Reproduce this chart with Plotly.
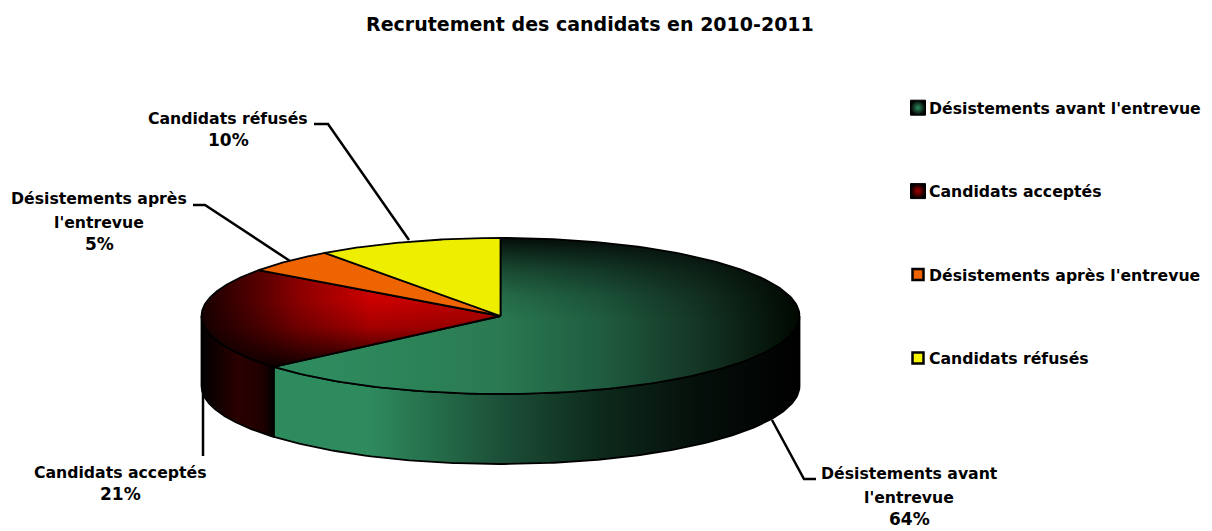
import numpy as np
import plotly.graph_objects as go

# ---- data ----
categories = ["Désistements avant l'entrevue", "Candidats acceptés", "Désistements après l'entrevue", "Candidats réfusés"]
values = [63.7, 21.3, 5, 10]
label_lines = [["Désistements avant", "l'entrevue"], ["Candidats acceptés"], ["Désistements après", "l'entrevue"], ["Candidats réfusés"]]
title_text = "Recrutement des candidats en 2010-2011"
swatch_centers = ["#2E8B5E", "#A80000", "#F06400", "#F5F500"]

# ---- geometry / style ----
W, H = 1212, 531
CX, CY, RX, RY, DEPTH = 500.5, 316, 299, 78, 70
FONT = "DejaVu Sans"
FS = 15.7
LINE_STEP = 24.5

def angle_pts(a0, a1, n=160):
    t = np.radians(np.linspace(a0, a1, n))
    return CX + RX*np.sin(t), CY - RY*np.cos(t)

fig = go.Figure()
def poly(x, y, grad=None, color=None, line=True, gtype="horizontal", start=None, stop=None, name=None):
    kw = dict(x=x, y=y, mode="lines", fill="toself", hoverinfo="skip", showlegend=False, name=name)
    kw["line"] = dict(color="black", width=1.8) if line else dict(color="rgba(0,0,0,0)", width=0)
    if grad is not None:
        kw["fillgradient"] = dict(type=gtype, colorscale=grad, start=start, stop=stop)
    else:
        kw["fillcolor"] = color
    fig.add_trace(go.Scatter(**kw))

cum = np.cumsum([0] + values) / sum(values) * 360
a = {c: (cum[i], cum[i+1]) for i, c in enumerate(categories)}
A, B, C, D = [a[c] for c in categories]

# side faces
def side(a0, a1, grad, x0, x1):
    x, y = angle_pts(a0, a1)
    poly(np.r_[x, x[::-1], x[0]], np.r_[y, y[::-1]+DEPTH, y[0]], grad=grad, start=x0, stop=x1)

side(90, A[1], [[0, "#2E8B5E"], [0.18, "#2E8B5E"], [0.43, "#1C5038"], [0.62, "#0D2A1C"], [0.81, "#050F0A"], [1, "#000000"]], 274, CX+RX)
side(A[1], 270, [[0, "#000000"], [0.5, "#2A0000"], [0.85, "#1E0000"], [1, "#000000"]], CX-RX, 274)

def wedge(a0, a1):
    x, y = angle_pts(a0, a1)
    return np.r_[CX, x, CX], np.r_[CY, y, CY]

# top faces
x, y = wedge(*A)
poly(x, y, grad=[[0, "#2E8B5E"], [0.175, "#2E8B5E"], [0.47, "#2A7A52"], [0.65, "#1F5C40"], [0.825, "#143524"], [1, "#000800"]], start=230, stop=CX+RX, line=False)
poly(x, y, grad=[[0, "rgba(0,0,0,0.9)"], [0.08, "rgba(0,0,0,0.68)"], [0.2, "rgba(0,0,0,0.4)"], [0.37, "rgba(0,0,0,0.12)"], [0.53, "rgba(0,0,0,0)"], [1, "rgba(0,0,0,0)"]], start=CY-RY, stop=CY+RY, gtype="vertical")

x, y = wedge(*B)
poly(x, y, grad=[[0, "#180000"], [0.2, "#5A0000"], [0.33, "#8C0000"], [0.57, "#CC0000"], [1, "#B80000"]], start=CX-RX, stop=CX, line=False)
poly(x, y, grad=[[0, "rgba(0,0,0,0)"], [0.4, "rgba(0,0,0,0.2)"], [0.75, "rgba(0,0,0,0.6)"], [1, "rgba(0,0,0,0.9)"]], start=300, stop=368, gtype="vertical")

x, y = wedge(*C)
poly(x, y, color="#EE6400")
x, y = wedge(*D)
poly(x, y, color="#EEEE00")

# leader lines, ending on the pie rim at each slice
def leader(px, py):
    fig.add_trace(go.Scatter(x=px, y=py, mode="lines", line=dict(color="black", width=2.5), hoverinfo="skip", showlegend=False))
leader([772, 804, 816], [420, 479, 479])
leader([203, 203], [388, 456])
leader([290, 205, 193], [261, 205, 205])
leader([409, 328, 314], [240, 124, 124])

def txt(x, y, s, size=FS):
    fig.add_annotation(x=x, y=y, text=f"<b>{s}</b>", showarrow=False, xanchor="center", yanchor="middle",
                       font=dict(family=FONT, size=size, color="black"))

# data labels
label_pos = [(909, 473), (120, 472), (99, 198), (228, 118)]
for lines, v, (lx, ly) in zip(label_lines, values, label_pos):
    for i, s in enumerate(lines):
        txt(lx, ly + i*LINE_STEP, s)
    txt(lx, ly + len(lines)*LINE_STEP - 3, f"{v:.0f}%", size=17)

# legend
leg_y0, leg_step = 107.7, 83.4
for i, (cat, col) in enumerate(zip(categories, swatch_centers)):
    yy = leg_y0 + i*leg_step
    if i < 2:
        m = dict(symbol="square", size=15, color="#000000", gradient=dict(type="radial", color=col), line=dict(color="black", width=1))
    else:
        m = dict(symbol="square", size=11, color=col, line=dict(color="black", width=2.5))
    fig.add_trace(go.Scatter(x=[918], y=[yy], mode="markers", marker=m, hoverinfo="skip", showlegend=False))
    fig.add_annotation(x=927, y=yy+0.6, text=f"<b>{cat}</b>", showarrow=False, xanchor="left", yanchor="middle",
                       font=dict(family=FONT, size=FS, color="black"))

txt(589.5, 24, title_text, size=19)

fig.update_layout(width=W, height=H, margin=dict(l=0, r=0, t=0, b=0), paper_bgcolor="white", plot_bgcolor="white",
                  xaxis=dict(range=[0, W], visible=False, fixedrange=True),
                  yaxis=dict(range=[H, 0], visible=False, fixedrange=True))
fig.write_html("out.html", config=dict(displayModeBar=False), post_script="document.body.style.margin='0';")
